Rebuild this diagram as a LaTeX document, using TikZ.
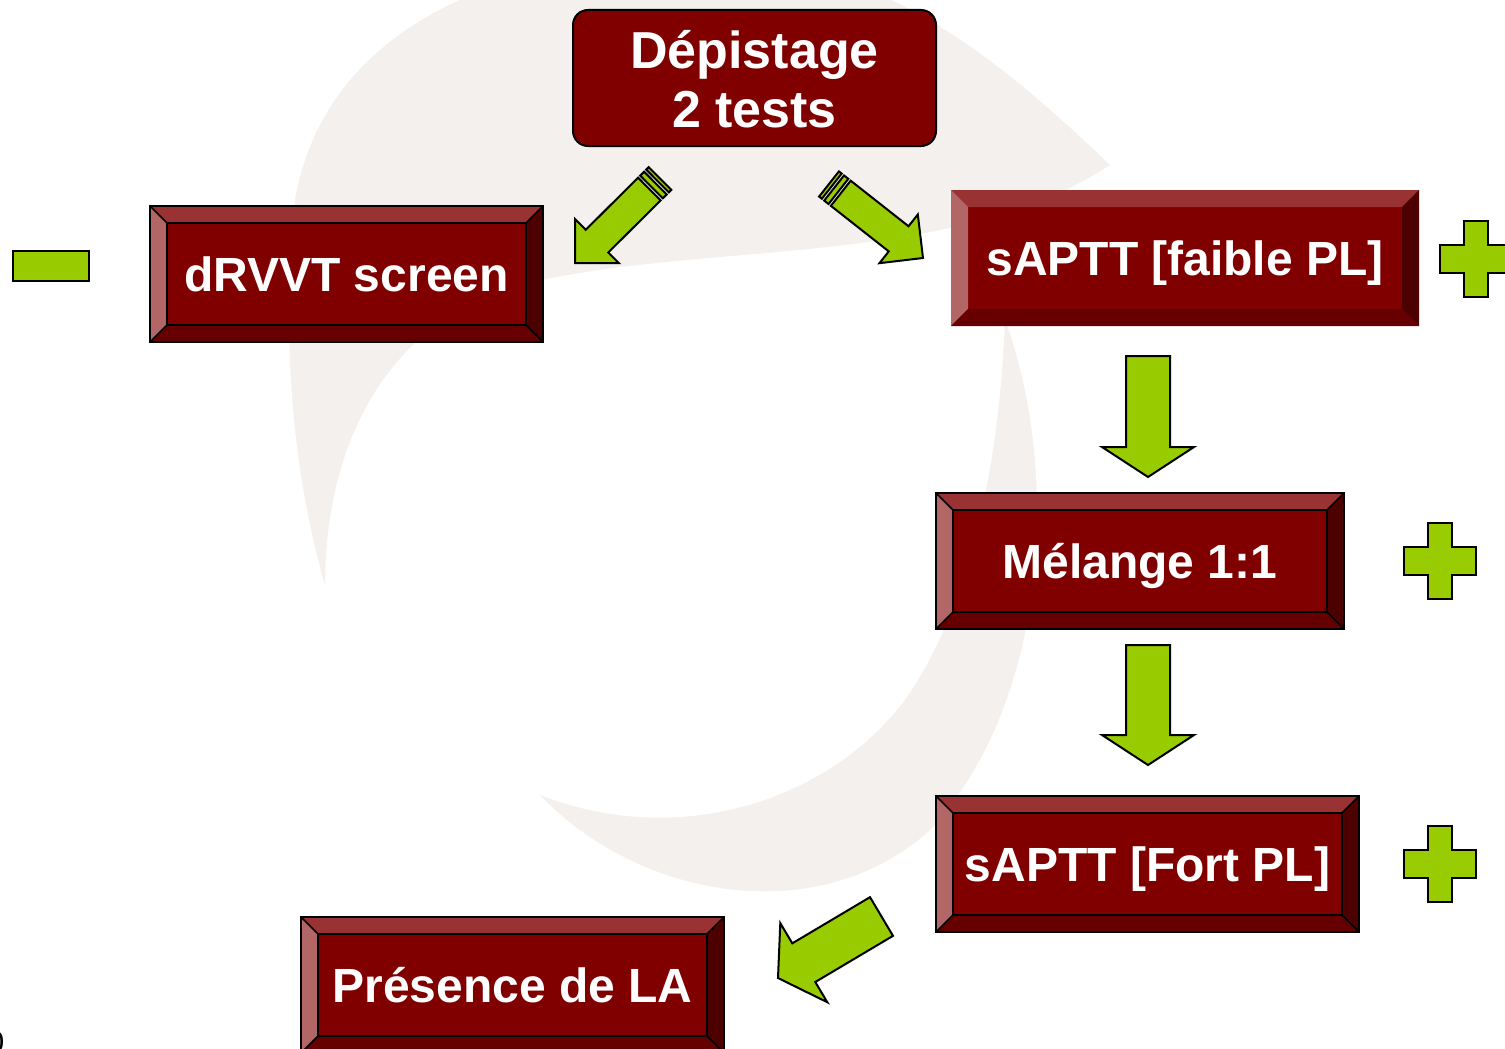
\documentclass[tikz,border=0pt]{standalone}
\usepackage{fontspec}
\setmainfont{Liberation Sans}
\usetikzlibrary{calc}

\definecolor{face}{HTML}{800000}
\definecolor{bevT}{HTML}{993333}
\definecolor{bevL}{HTML}{B36666}
\definecolor{bevR}{HTML}{4D0000}
\definecolor{bevB}{HTML}{660000}
\definecolor{leaf}{HTML}{99CC00}
\definecolor{mark}{HTML}{F3F0ED}

\tikzset{
  greenarrow/.style={fill=leaf, draw=black, line width=2pt, line join=miter},
  boxtext/.style={text=white, font=\fontsize{48}{58}\selectfont\bfseries, inner sep=0pt, anchor=base},
  bevelline/.style={draw=black, line width=1.6pt},
  bevelnone/.style={draw=none},
  watermark/.style={fill=mark, draw=none},
}

% bevelled box: [line style]{name}{x1}{y1}{x2}{y2}{text}
\newcommand{\BevelBox}[7][bevelline]{%
  \fill[face] (#3,#4) rectangle (#5,#6);
  \fill[bevT] (#3,#4) -- (#5,#4) -- ({#5-17},{#4+17}) -- ({#3+17},{#4+17}) -- cycle;
  \fill[bevL] (#3,#4) -- ({#3+17},{#4+17}) -- ({#3+17},{#6-17}) -- (#3,#6) -- cycle;
  \fill[bevR] (#5,#4) -- (#5,#6) -- ({#5-17},{#6-17}) -- ({#5-17},{#4+17}) -- cycle;
  \fill[bevB] (#3,#6) -- ({#3+17},{#6-17}) -- ({#5-17},{#6-17}) -- (#5,#6) -- cycle;
  \path[#1] (#3,#4) rectangle (#5,#6);
  \path[#1] ({#3+17},{#4+17}) rectangle ({#5-17},{#6-17});
  \path[#1] (#3,#4) -- ({#3+17},{#4+17}) (#5,#4) -- ({#5-17},{#4+17})
            (#3,#6) -- ({#3+17},{#6-17}) (#5,#6) -- ({#5-17},{#6-17});
  \node[boxtext] (#2) at ({(#3+#5)/2},{(#4+#6)/2+17.5}) {#7};
}

% block arrow: {tail}{tip}{shaft half width}{head half width}{head length}
\newcommand{\BlockArrow}[5]{%
  \coordinate (ba-b) at ($(#2)!#5!(#1)$);
  \draw[greenarrow] ($(#1)!#3!90:(#2)$) -- ($(ba-b)!#3!90:(#2)$)
    -- ($(ba-b)!#4!90:(#2)$) -- (#2) -- ($(ba-b)!#4!-90:(#2)$)
    -- ($(ba-b)!#3!-90:(#2)$) -- ($(#1)!#3!-90:(#2)$) -- cycle;
}

% striped arrow: {tail}{tip}
\newcommand{\StripedArrow}[2]{%
  \coordinate (sa-a) at ($(#1)!3.5pt!(#2)$);
  \coordinate (sa-b) at ($(#1)!6.5pt!(#2)$);
  \coordinate (sa-c) at ($(#1)!12pt!(#2)$);
  \coordinate (sa-d) at ($(#1)!15pt!(#2)$);
  \draw[greenarrow] ($(#1)!16pt!90:(#2)$) -- ($(sa-a)!16pt!90:(#2)$)
    -- ($(sa-a)!16pt!-90:(#2)$) -- ($(#1)!16pt!-90:(#2)$) -- cycle;
  \draw[greenarrow] ($(sa-b)!16pt!90:(#2)$) -- ($(sa-c)!16pt!90:(#2)$)
    -- ($(sa-c)!16pt!-90:(#2)$) -- ($(sa-b)!16pt!-90:(#2)$) -- cycle;
  \BlockArrow{sa-d}{#2}{16pt}{31pt}{31pt}
}

% plus sign: {name}{cx}{cy}
\newcommand{\PlusSign}[3]{%
  \coordinate (#1) at (#2,#3);
  \draw[greenarrow] ({#2-12},{#3-38}) -- ({#2+12},{#3-38}) -- ({#2+12},{#3-14})
    -- ({#2+36},{#3-14}) -- ({#2+36},{#3+14}) -- ({#2+12},{#3+14})
    -- ({#2+12},{#3+38}) -- ({#2-12},{#3+38}) -- ({#2-12},{#3+14})
    -- ({#2-36},{#3+14}) -- ({#2-36},{#3-14}) -- ({#2-12},{#3-14}) -- cycle;
}

\begin{document}
\begin{tikzpicture}[x=1pt,y=-1pt]
\useasboundingbox (0,0) rectangle (1505,1049);
\fill[white] (0,0) rectangle (1505,1049);

% faint swirl in the background
\fill[watermark] (1110,165) .. controls (1000,60) and (900,-20) .. (760,-40)
  .. controls (560,-60) and (330,0) .. (295,200)
  .. controls (280,350) and (295,480) .. (325,585)
  .. controls (325,440) and (390,320) .. (520,285)
  .. controls (700,240) and (950,270) .. (1110,165) -- cycle;
\fill[watermark] (1005,320) .. controls (1060,470) and (1050,700) .. (930,830)
  .. controls (820,930) and (640,900) .. (540,795)
  .. controls (680,850) and (830,800) .. (905,700)
  .. controls (975,600) and (1000,450) .. (1005,320) -- cycle;

% screening box
\node[draw=black, line width=2pt, fill=face, rounded corners=15pt,
      minimum width=363pt, minimum height=136pt, inner sep=0pt] (dep) at (754.5,78) {};
\node[boxtext, font=\fontsize{52}{62}\selectfont\bfseries] (dep-a) at (754.5,69) {Dépistage};
\node[boxtext, font=\fontsize{52}{62}\selectfont\bfseries] (dep-b) at (754.5,128) {2 tests};

% test boxes
\BevelBox{drvvt}{150}{206}{543}{342}{dRVVT screen}
\BevelBox[bevelnone]{faible}{951}{190}{1419}{326}{sAPTT [faible PL]}
\BevelBox{melange}{936}{493}{1344}{629}{Mélange 1:1}
\BevelBox{fort}{936}{796}{1359}{932}{sAPTT [Fort PL]}
\BevelBox{presence}{301}{917}{724}{1053}{Présence de LA}

% arrows between the steps
\coordinate (a1-t) at (660,178.5);  \coordinate (a1-h) at (575,263);
\coordinate (a2-t) at (829,184);    \coordinate (a2-h) at (923,258);
\coordinate (a3-t) at (1148,356);   \coordinate (a3-h) at (1148,477);
\coordinate (a4-t) at (1148,645);   \coordinate (a4-h) at (1148,765);
\coordinate (a5-t) at (881.5,916.5); \coordinate (a5-h) at (778,978);
\StripedArrow{a1-t}{a1-h}
\StripedArrow{a2-t}{a2-h}
\BlockArrow{a3-t}{a3-h}{22pt}{46pt}{30pt}
\BlockArrow{a4-t}{a4-h}{22pt}{46pt}{30pt}
\BlockArrow{a5-t}{a5-h}{22.5pt}{46pt}{30pt}

% result signs
\draw[greenarrow] (13,251) rectangle (89,281);
\coordinate (minus) at (51,266);
\PlusSign{plus-a}{1475.5}{259}
\PlusSign{plus-b}{1440}{561}
\PlusSign{plus-c}{1440}{863.5}

% page number at the lower left edge
\node[font=\fontsize{30}{30}\selectfont, anchor=base east, inner sep=0pt] (pageno) at (4.5,1052) {0};
\end{tikzpicture}
\end{document}
